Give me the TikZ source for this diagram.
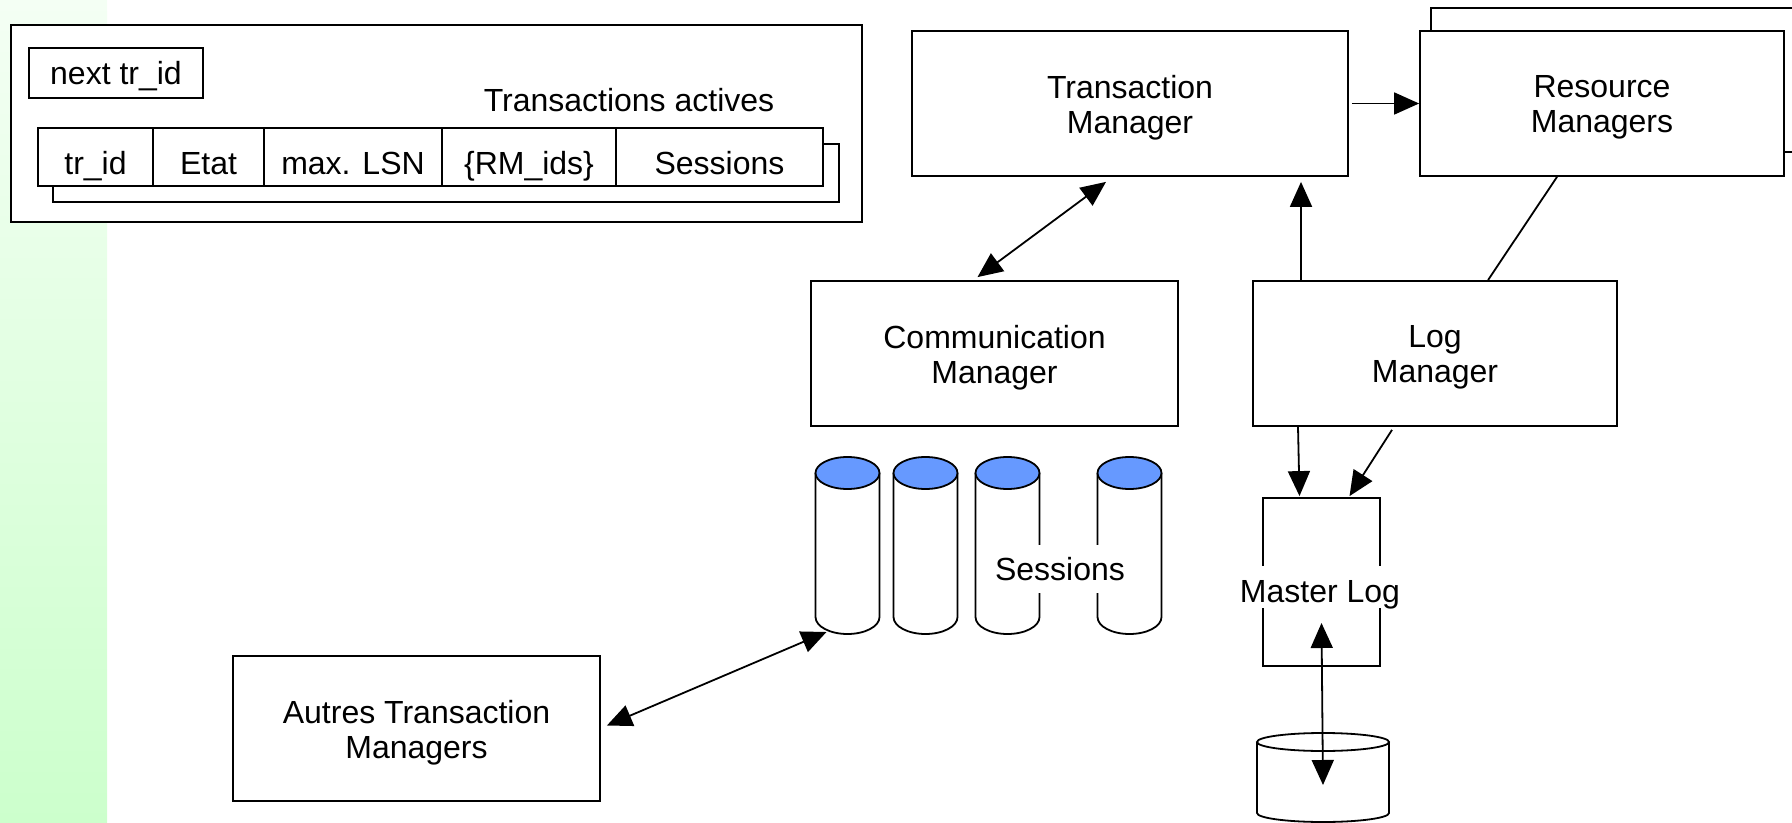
\documentclass[tikz,border=0pt]{standalone}
\usepackage{fontspec}
\setmainfont{Liberation Sans}
\usetikzlibrary{arrows.meta,calc}
\definecolor{sessionblue}{RGB}{102,153,255}
\definecolor{stripgreen}{RGB}{204,255,204}
\definecolor{striptop}{RGB}{244,255,244}

\begin{document}
\begin{tikzpicture}[x=0.5pt,y=-0.5pt,line width=0.9pt,
    txt/.style={font=\fontsize{16}{17.5}\selectfont},
    box/.style={draw,fill=white,minimum height=72.5pt},
    boxtxt/.style={label={[txt,align=center,yshift=-2pt]center:{#1}}},
    cell/.style={txt,draw,fill=white,inner sep=0pt,minimum height=29pt,
      text height=18pt,text depth=0pt},
    tip/.style={-{Triangle[length=12.5pt,width=11pt]}},
    tips/.style={{Triangle[length=12.5pt,width=11pt]}-{Triangle[length=12.5pt,width=11pt]}}]
    \useasboundingbox (0,0) rectangle (1792,823);
    \clip (0,0) rectangle (1792,823);
    \shade[top color=striptop,bottom color=stripgreen] (0,0) rectangle (107,823);

    % Table des transactions
    \node[draw,fill=white,minimum width=425.5pt,minimum height=98.5pt] (tbl) at (436.5,123.5) {};
    \node[cell,minimum width=87pt,minimum height=25pt,text height=12pt] (next) at (116,73) {next tr\_id};
    \node[txt] (actives) at (629,100) {Transactions actives};
    \draw[fill=white] (53,144) rectangle (839,202);
    \foreach \i/\cx/\w/\lbl in {1/95.5/57.5/tr\_id, 2/208.5/55.5/Etat, 3/353/89/max. LSN,
        4/529/87/{\{RM\_ids\}}, 5/719.5/103.5/Sessions}
      \node[cell,minimum width=\w pt] (c\i) at (\cx,157) {\lbl};

    % Managers
    \node[box,minimum width=218pt,boxtxt={Transaction\\Manager}] (tm) at (1130,103.5) {};
    \draw[fill=white] (1431,8) rectangle (1810,152);
    \node[box,minimum width=182pt,boxtxt={Resource\\Managers}] (rm) at (1602,103.5) {};
    \node[box,minimum width=183.5pt,boxtxt={Communication\\Manager}] (cm) at (994.5,353.5) {};
    \node[box,minimum width=182pt,boxtxt={Log\\Manager}] (lm) at (1435,353.5) {};
    \node[box,minimum width=183.5pt,boxtxt={Autres Transaction\\Managers}] (atm) at (416.5,728.5) {};

    % Sessions
    \foreach \i/\cx in {1/847.5, 2/925.5, 3/1007.5, 4/1129.5} {
      \draw[fill=white] (\cx-32,473) -- (\cx-32,617)
        arc[start angle=180,end angle=0,x radius=32,y radius=17] -- (\cx+32,473);
      \draw[fill=sessionblue] (\cx,473) ellipse[x radius=32,y radius=16];
      \coordinate (s\i) at (\cx,634);
    }
    \node[txt,fill=white,inner xsep=2pt,inner ysep=0pt,text height=17.5pt,text depth=6.5pt]
      (sess) at (1060,569) {Sessions};

    % Master Log et disque
    \node[draw,fill=white,minimum width=58.5pt,minimum height=84pt] (ml) at (1321.5,582) {};
    \node[txt,fill=white,inner xsep=2pt,inner ysep=0pt,text height=18pt,text depth=3pt]
      (mltxt) at (1320,587) {Master Log};
    \coordinate (disk) at (1323,742);
    \draw[fill=white] (1257,742) -- (1257,813)
      arc[start angle=180,end angle=0,x radius=66,y radius=9] -- (1389,742);
    \draw (disk) ellipse[x radius=66,y radius=9];

    % Connexions
    \draw[tip,shorten <=1.5pt] (tm) -- (rm);
    \draw[tips] ($(cm.north)+(-17,-3)$) -- ($(tm.south)+(-24,5)$);
    \draw[tip] ($(lm.north)+(-134,0)$) -- ($(tm.south)+(171,5)$);
    \draw ($(rm.south)+(-45,0)$) -- ($(lm.north)+(53,0)$);
    \draw[tip] ($(lm.south)+(-137,0)$) -- ($(ml.north)+(-22,-1)$);
    \draw[tip] ($(lm.south)+(-43,3)$) -- ($(ml.north)+(28,-1)$);
    \draw[tips] ($(ml.center)+(0,41)$) -- ($(disk)+(0,43)$);
    \draw[tips] ($(atm.east)+(6,-3)$) -- ($(s1)+(-21,-2)$);
\end{tikzpicture}
\end{document}
